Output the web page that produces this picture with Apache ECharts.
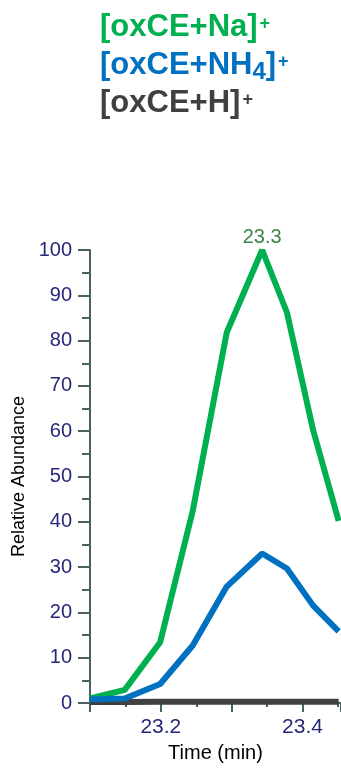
<!DOCTYPE html>
<html>
<head>
<meta charset="utf-8">
<script src="https://cdn.jsdelivr.net/npm/echarts@6/dist/echarts.min.js"></script>
<style>
html,body{margin:0;padding:0;background:#fff;}
#chart{width:341px;height:768px;}
</style>
</head>
<body>
<div id="chart"></div>
<script>
// ---- data ----
var times = [23.100, 23.149, 23.199, 23.245, 23.293, 23.343, 23.378, 23.415, 23.451];
var naValues = [1.0, 2.9, 13.4, 42.4, 81.8, 100, 86.2, 60.2, 40.2];
var nh4Values = [0.8, 1.0, 4.2, 12.7, 25.7, 33.0, 29.7, 21.5, 15.8];
var hValues = [0.2, 0.2, 0.3, 0.3, 0.3, 0.3, 0.3, 0.3, 0.3];
var xLabelValues = [23.2, 23.4];
var seriesNames = ['[oxCE+Na]+', '[oxCE+NH4]+', '[oxCE+H]+'];
var colors = ['#00b050', '#0070c0', '#404040'];

var ff = 'Liberation Sans, Arial, sans-serif';

function pairs(vals) {
  return vals.map(function (v, i) { return [times[i], v]; });
}
var peakIdx = naValues.indexOf(Math.max.apply(null, naValues));

var chart = echarts.init(document.getElementById('chart'), null, {renderer: 'canvas'});
var axisColor = '#486262';

function titleText(main, color, y) {
  return {
    type: 'text', left: 100, top: y,
    style: {
      text: main, fill: color, font: 'bold 31px ' + ff,
      rich: {
        m: {fontSize: 31, lineHeight: 31, fontWeight: 'bold', fill: color, fontFamily: ff, padding: [0, 0, 6, 0]},
        s: {fontSize: 18, lineHeight: 18, fontWeight: 'bold', fill: color, fontFamily: ff, verticalAlign: 'top', padding: [0, 0, 0, 2]},
        b: {fontSize: 24, lineHeight: 24, fontWeight: 'bold', fill: color, fontFamily: ff, verticalAlign: 'bottom'}
      }
    }
  };
}

var option = {
  animation: false,
  backgroundColor: '#fff',
  graphic: [
    titleText('{m|[oxCE+Na]}{s|+}', colors[0], 12),
    titleText('{m|[oxCE+NH}{b|4}{m|]}{s|+}', colors[1], 50),
    titleText('{m|[oxCE+H]}{s|+}', colors[2], 88)
  ],
  grid: {left: 90, right: 0, top: 250, bottom: 63, containLabel: false},
  xAxis: {
    type: 'value', min: 23.1, max: 23.4543, interval: 0.1,
    name: 'Time (min)', nameLocation: 'middle', nameGap: 40,
    nameTextStyle: {color: '#000', fontSize: 20, fontFamily: ff},
    axisLine: {show: true, onZero: false, lineStyle: {color: axisColor, width: 2}},
    axisTick: {show: true, length: 9, lineStyle: {color: axisColor, width: 2}},
    minorTick: {show: true, splitNumber: 2, length: 4, lineStyle: {color: axisColor, width: 2}},
    axisLabel: {
      margin: 14, color: '#27277a', fontSize: 21, fontFamily: ff,
      showMinLabel: false, showMaxLabel: false,
      formatter: function (v) {
        for (var i = 0; i < xLabelValues.length; i++) {
          if (Math.abs(v - xLabelValues[i]) < 1e-6) return xLabelValues[i].toFixed(1);
        }
        return '';
      }
    },
    splitLine: {show: false}
  },
  yAxis: {
    type: 'value', min: 0, max: 100, interval: 10,
    name: 'Relative Abundance', nameLocation: 'middle', nameGap: 59,
    nameTextStyle: {color: '#000', fontSize: 18, fontFamily: ff},
    axisLine: {show: true, lineStyle: {color: axisColor, width: 2}},
    axisTick: {show: true, length: 12, lineStyle: {color: axisColor, width: 2}},
    minorTick: {show: true, splitNumber: 2, length: 8, lineStyle: {color: axisColor, width: 2}},
    axisLabel: {margin: 18, color: '#27277a', fontSize: 20, fontFamily: ff},
    splitLine: {show: false}
  },
  series: [
    {name: seriesNames[0], type: 'line', data: pairs(naValues), symbol: 'none', clip: true,
     lineStyle: {color: colors[0], width: 6}, z: 3},
    {name: seriesNames[1], type: 'line', data: pairs(nh4Values), symbol: 'none', clip: true,
     lineStyle: {color: colors[1], width: 6}, z: 4},
    {name: seriesNames[2], type: 'line', data: pairs(hValues), symbol: 'none', clip: true,
     lineStyle: {color: colors[2], width: 6}, z: 2},
    {name: 'peak', type: 'scatter', clip: false, silent: true,
     data: [[times[peakIdx], naValues[peakIdx]]],
     symbolSize: 2, itemStyle: {color: 'rgba(0,0,0,0)'},
     label: {
       show: true, position: 'top', distance: 2,
       formatter: function (p) { return p.value[0].toFixed(1); },
       color: '#0b6414', fontSize: 20, fontFamily: ff
     }, z: 6}
  ]
};
chart.setOption(option);
</script>
</body>
</html>
